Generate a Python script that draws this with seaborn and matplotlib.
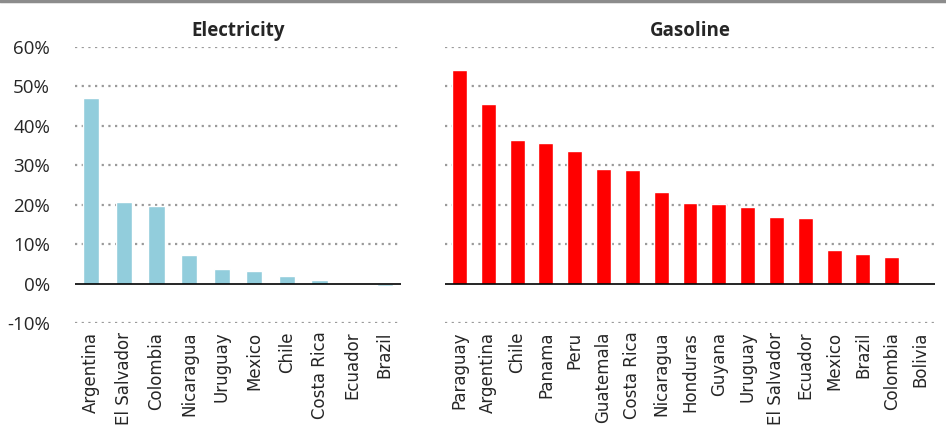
import matplotlib
matplotlib.use("Agg")
import matplotlib.pyplot as plt
import seaborn as sns
import pandas as pd
from matplotlib.lines import Line2D
from matplotlib.ticker import FuncFormatter

elec_countries = ["Argentina", "El Salvador", "Colombia", "Nicaragua", "Uruguay",
                  "Mexico", "Chile", "Costa Rica", "Ecuador", "Brazil"]
elec_values = [47.0, 20.7, 19.7, 7.3, 3.7, 3.3, 2.0, 0.9, 0.0, -0.6]

gas_countries = ["Paraguay", "Argentina", "Chile", "Panama", "Peru", "Guatemala",
                 "Costa Rica", "Nicaragua", "Honduras", "Guyana", "Uruguay",
                 "El Salvador", "Ecuador", "Mexico", "Brazil", "Colombia", "Bolivia"]
gas_values = [54.2, 45.4, 36.3, 35.6, 33.7, 29.0, 28.8, 23.2, 20.4, 20.1, 19.4,
              16.9, 16.6, 8.6, 7.5, 6.8, 0.0]

yticks = [-10, 0, 10, 20, 30, 40, 50, 60]

sns.set_theme(style="white")
plt.rcParams['font.family'] = ['Open Sans', 'DejaVu Sans']

fig = plt.figure(figsize=(9.46, 4.36), dpi=100)
axL = fig.add_axes([75/946, 1-323.3/436, 326/946, 276.6/436])
axR = fig.add_axes([445/946, 1-323.3/436, 490/946, 276.6/436])

dfL = pd.DataFrame({"country": elec_countries, "value": elec_values})
dfR = pd.DataFrame({"country": gas_countries, "value": gas_values})

sns.barplot(data=dfL, x="country", y="value", ax=axL, color="#92CDDC",
            saturation=1, width=0.5)
sns.barplot(data=dfR, x="country", y="value", ax=axR, color="#FF0000",
            saturation=1, width=0.52)

for ax, title in [(axL, "Electricity"), (axR, "Gasoline")]:
    ax.set_ylim(-10, 60)
    ax.set_yticks(yticks)
    ax.set_xlim(-0.5, len(ax.get_xticks()) - 0.5)
    for y in yticks:
        if y != 0:
            ax.axhline(y, color="#9A9A9A", linestyle=(0, (1, 2.0)), linewidth=1.6, zorder=0)
    ax.axhline(0, color="black", linewidth=1.2, zorder=3)
    for s in ax.spines.values():
        s.set_visible(False)
    ax.set_xlabel("")
    ax.set_ylabel("")
    ax.tick_params(axis="x", length=0, pad=6, labelsize=12, rotation=90)
    ax.tick_params(axis="y", length=0)
    ax.set_title(title, fontsize=13.5, fontweight="bold", pad=8)
    for lab in ax.get_xticklabels():
        lab.set_fontfamily(["DejaVu Sans"])

axL.yaxis.set_major_formatter(FuncFormatter(lambda v, p: f"{int(v)}%"))
axL.tick_params(axis="y", labelsize=13.5, pad=18)
axR.set_yticklabels([])

fig.add_artist(Line2D([0, 1], [0.998, 0.998], transform=fig.transFigure,
                      color="#8C8C8C", linewidth=2.5))

fig.savefig("out.png", dpi=100)
